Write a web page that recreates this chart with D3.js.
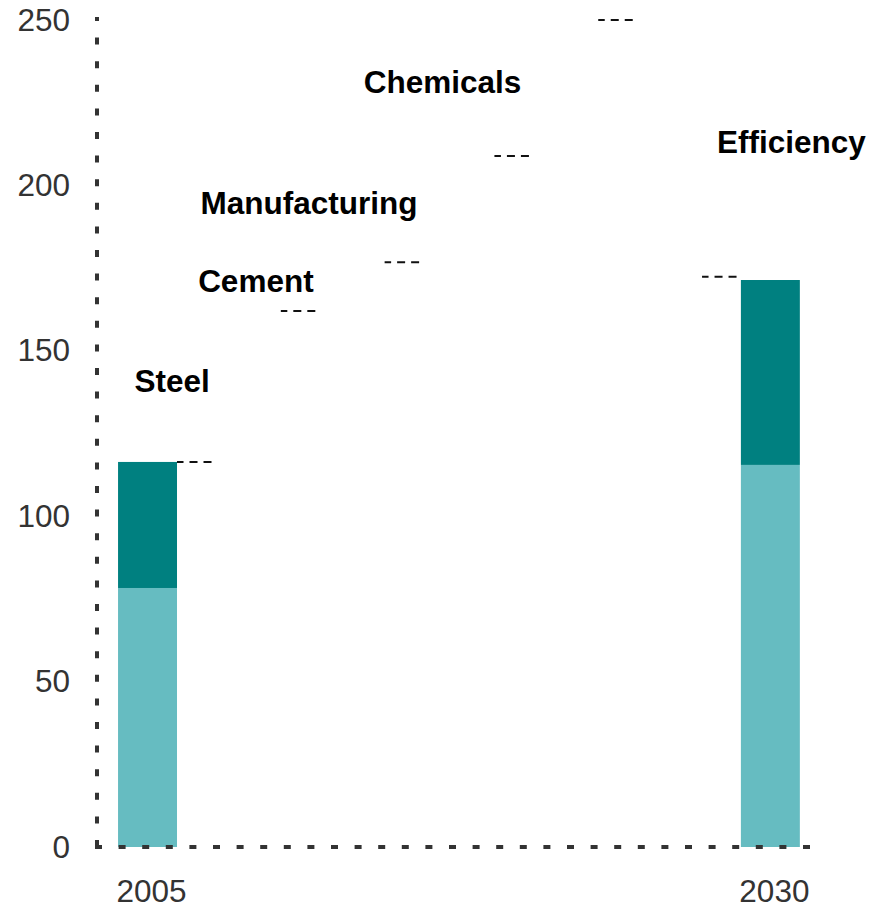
<!DOCTYPE html>
<html>
<head>
<meta charset="utf-8">
<script src="https://cdn.jsdelivr.net/npm/d3@7"></script>
<style>
  body { margin: 0; background: #fff; }
  svg text { font-family: "Liberation Sans", Arial, sans-serif; }
</style>
</head>
<body>
<svg id="chart" width="885" height="909"></svg>
<script>
// categories along the x axis
var categories = ['2005', 'Steel', 'Cement', 'Manufacturing', 'Chemicals', 'Efficiency', '2030'];
// stacked end bars: [light part, dark part]
var start2005 = [78.3, 38.1];
var end2030 = [115.5, 55.9];
// changes between the two years
var deltas = [45.6, 14.8, 32.1, 41.1, -77.6];
var yTicks = [0, 50, 100, 150, 200, 250];
var xTickLabels = ['2005', '2030'];

var svg = d3.select('#chart');

var x = d3.scaleBand()
    .domain(categories)
    .range([100.4, 817.5])
    .paddingInner(0.432)
    .paddingOuter(0.17);

var y = d3.scaleLinear().domain([0, 250]).range([847, 20]);

var bw = x.bandwidth();

// running totals for the waterfall
var levels = [d3.sum(start2005)];
deltas.forEach(function(d) { levels.push(levels[levels.length - 1] + d); });

// invisible step bars for the changes
var steps = deltas.map(function(d, i) {
    return {cat: categories[i + 1], from: levels[i], to: levels[i + 1], delta: d};
});

svg.append('g').selectAll('rect')
    .data(steps)
    .enter().append('rect')
    .attr('x', function(d) { return x(d.cat); })
    .attr('y', function(d) { return y(Math.max(d.from, d.to)); })
    .attr('width', bw)
    .attr('height', function(d) { return Math.abs(y(d.from) - y(d.to)); })
    .style('fill', 'none');

// connectors
svg.append('g').selectAll('line')
    .data(levels)
    .enter().append('line')
    .attr('x1', function(d, i) { return x(categories[i]) + bw + (i > 2 ? 6 : 0); })
    .attr('x2', function(d, i) { return x(categories[i]) + bw + (i > 2 ? 6 : 0) + 36; })
    .attr('y1', function(d) { return y(d); })
    .attr('y2', function(d) { return y(d); })
    .style('stroke', '#111')
    .style('stroke-width', 2)
    .style('stroke-dasharray', '8,6')
    .style('stroke-dashoffset', 1.5);

// stacked bars for 2005 and 2030
var colors = ['#66bcc1', '#008080'];
var ends = [{cat: '2005', parts: start2005}, {cat: '2030', parts: end2030}];
ends.forEach(function(e) {
    var base = 0;
    e.parts.forEach(function(v, j) {
        svg.append('rect')
            .attr('x', x(e.cat))
            .attr('y', y(base + v))
            .attr('width', bw)
            .attr('height', y(base) - y(base + v))
            .style('fill', colors[j]);
        base += v;
    });
});

// labels of the changes
svg.append('g').selectAll('text')
    .data(steps)
    .enter().append('text')
    .attr('x', function(d) { return d.delta >= 0 ? x(d.cat) - 12 : x(d.cat) + bw + 21; })
    .attr('y', function(d) { return y((d.from + d.to) / 2) - 6; })
    .attr('text-anchor', function(d) { return d.delta >= 0 ? 'end' : 'start'; })
    .attr('dominant-baseline', 'central')
    .style('font-size', '31.5px')
    .style('font-weight', 'bold')
    .style('fill', '#000')
    .text(function(d) { return d.cat; });

// y axis
var yAxis = d3.axisLeft(y).tickValues(yTicks).tickSize(0).tickPadding(27);
var gy = svg.append('g').attr('transform', 'translate(97,0)').call(yAxis);
gy.select('.domain').remove();
gy.selectAll('text').style('font-size', '31.5px').style('fill', '#333');

svg.append('line')
    .attr('x1', 97).attr('x2', 97)
    .attr('y1', y(0)).attr('y2', y(250) - 3)
    .style('stroke', '#333')
    .style('stroke-width', 4)
    .style('stroke-dasharray', '7,16.6');

// x axis
var xAxis = d3.axisBottom(x).tickValues(xTickLabels).tickSize(0).tickPadding(33);
var gx = svg.append('g').attr('transform', 'translate(4,' + y(0) + ')').call(xAxis);
gx.select('.domain').remove();
gx.selectAll('text').style('font-size', '31.5px').style('fill', '#333');

svg.append('line')
    .attr('x1', 95).attr('x2', 810)
    .attr('y1', y(0)).attr('y2', y(0))
    .style('stroke', '#333')
    .style('stroke-width', 4)
    .style('stroke-dasharray', '7,16.6');
</script>
</body>
</html>
